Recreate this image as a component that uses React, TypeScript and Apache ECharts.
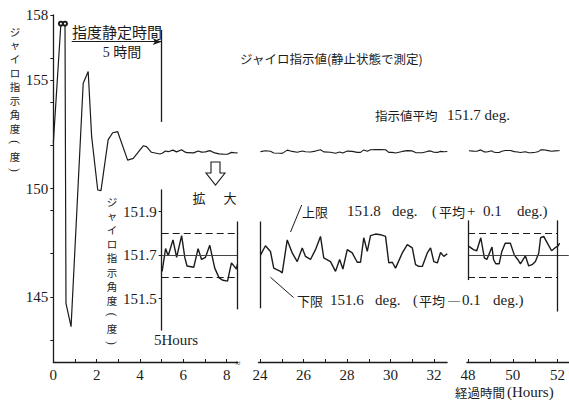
import React, { useEffect, useRef } from "react";
import * as echarts from "echarts";

// ---------- data (hours, gyro reading in degrees) ----------
const transientHours = [0, 0.35, 0.54, 0.585, 0.82, 1.38, 1.61, 1.77, 2.05, 2.2, 2.53, 2.74, 2.97, 3.43, 3.69, 4.15, 4.3, 4.53, 4.92];
const transientValues = [152.08, 157.6, 157.6, 144.7, 143.63, 154.85, 155.39, 152.39, 149.93, 149.9, 152.24, 152.57, 152.62, 151.31, 151.39, 151.97, 151.93, 151.67, 151.59];

const seg1Hours = [5.02, 5.18, 5.3, 5.52, 5.69, 5.92, 6.07, 6.17, 6.48, 6.68, 6.84, 7.02, 7.22, 7.45, 7.65, 7.83, 8.04, 8.22, 8.45, 8.5];
const seg1Values = [151.625, 151.73, 151.697, 151.77, 151.69, 151.79, 151.687, 151.65, 151.644, 151.73, 151.68, 151.69, 151.745, 151.64, 151.595, 151.584, 151.58, 151.664, 151.636, 151.66];

const seg2Hours = [24.02, 24.25, 24.48, 24.63, 24.94, 25.02, 25.25, 25.48, 25.71, 25.94, 26.09, 26.32, 26.55, 26.78, 26.93, 27.24, 27.47, 27.66, 27.81, 28.01, 28.24, 28.47, 28.62, 28.77, 28.93, 29.08, 29.31, 29.54, 29.77, 29.92, 30.08, 30.23, 30.54, 30.77, 31.0, 31.15, 31.3, 31.46, 31.69, 31.84, 31.99, 32.15, 32.3, 32.45, 32.61];
const seg2Values = [151.7, 151.743, 151.717, 151.64, 151.625, 151.618, 151.77, 151.71, 151.67, 151.733, 151.694, 151.68, 151.725, 151.786, 151.687, 151.67, 151.625, 151.68, 151.636, 151.725, 151.71, 151.667, 151.667, 151.78, 151.717, 151.79, 151.797, 151.794, 151.786, 151.664, 151.667, 151.64, 151.71, 151.748, 151.733, 151.656, 151.648, 151.648, 151.71, 151.733, 151.67, 151.664, 151.712, 151.694, 151.706];

const seg3Hours = [48.04, 48.24, 48.39, 48.57, 48.73, 48.84, 49.07, 49.14, 49.24, 49.39, 49.51, 49.66, 49.89, 50.07, 50.22, 50.34, 50.56, 50.71, 50.86, 51.01, 51.16, 51.24, 51.38, 51.58, 51.73, 51.88, 52.03, 52.09];
const seg3Values = [151.74, 151.725, 151.72, 151.78, 151.687, 151.68, 151.737, 151.68, 151.66, 151.66, 151.717, 151.755, 151.755, 151.7, 151.68, 151.66, 151.697, 151.65, 151.656, 151.671, 151.71, 151.78, 151.786, 151.748, 151.72, 151.733, 151.743, 151.755];

const meanValue = 151.7;
const upperLimit = 151.8;
const lowerLimit = 151.6;

// tick labels
const mainYLabels = [145, 150, 155, 158];
const mainYTicks = [143, 145, 147, 149, 150, 152, 154, 155, 156, 158];
const insetYLabels = [151.5, 151.7, 151.9];
const seg1XTicks = [1, 2, 3, 4, 5, 6, 7, 8];
const seg1XLabels = [0, 2, 4, 6, 8];
const seg2XTicks = [24, 25, 26, 27, 28, 29, 30, 31, 32];
const seg2XLabels = [24, 26, 28, 30, 32];
const seg3XTicks = [48, 49, 50, 51, 52];
const seg3XLabels = [48, 50, 52];

const yTitleChars = ["ジ", "ャ", "イ", "ロ", "指", "示", "角", "度", "(", "度", ")"];

const INK = "#1b1b1b";
const SERIF = '"Liberation Serif", "DejaVu Serif", serif';
const CJK = '"Noto Sans CJK JP", sans-serif';
const MIXED = '"Liberation Serif", "Noto Sans CJK JP", serif';

const zip = (xs: number[], ys: number[]) => xs.map((x, i) => [x, ys[i]]);

const seg = (x1: number, y1: number, x2: number, y2: number, style: any) => [
  { coord: [x1, y1], lineStyle: style, symbol: "none" },
  { coord: [x2, y2], symbol: "none" },
];

const solid = { color: INK, width: 1.3, type: "solid" };
const dashed = { color: INK, width: 1.2, type: [7, 4] };
const meanStyle = { color: "#444", width: 1, type: "solid" };

function txt(text: string, x: number, y: number, size: number, family: string, align = "left", vAlign = "middle", extra: any = {}, rotation = 0) {
  return {
    type: "text",
    x,
    y,
    rotation,
    silent: true,
    style: {
      text,
      fontSize: size,
      fontFamily: family,
      fill: INK,
      align,
      verticalAlign: vAlign,
      textAlign: align,
      textVerticalAlign: vAlign,
      ...extra,
    },
  };
}

function verticalTitle(cx: number, firstCy: number, step: number, size: number) {
  return yTitleChars.map((ch, i) => {
    const cy = firstCy + i * step;
    if (ch === "(" || ch === ")") {
      // parentheses turned for vertical writing
      return txt(ch, cx, cy, size + 1, SERIF, "center", "middle", {}, -Math.PI / 2);
    }
    return txt(ch, cx, cy, size, CJK, "center", "middle");
  });
}

export default function App() {
  const ref = useRef<HTMLDivElement>(null);
  useEffect(() => {
    const chart = echarts.init(ref.current!, null, { renderer: "svg" });

    const upper1Data: any[] = zip(transientHours, transientValues).map((p) =>
      p[1] >= 157.5 ? { value: p, symbol: "emptyCircle", symbolSize: 4 } : { value: p, symbol: "none" }
    );
    zip(seg1Hours, seg1Values).forEach((p) => upper1Data.push({ value: p, symbol: "none" }));

    const hideAxis = { show: false };
    const grids = [
      { left: 53.3, top: 15, width: 184.2, height: 347 },
      { left: 258.5, top: 15, width: 188.6, height: 347 },
      { left: 466.9, top: 15, width: 101.9, height: 347 },
      { left: 161.7, top: 190, width: 75.8, height: 140 },
      { left: 258.5, top: 190, width: 188.6, height: 140 },
      { left: 466.9, top: 190, width: 101.9, height: 140 },
    ];

    const xLabel = (vals: number[]) => ({
      customValues: vals,
      fontFamily: SERIF,
      fontSize: 15,
      color: INK,
      margin: 5,
    });
    const xBase = (grid: number, min: number, max: number, ticks: number[], labels: number[]) => ({
      type: "value",
      gridIndex: grid,
      min,
      max,
      axisLine: { show: true, onZero: false, lineStyle: { color: INK, width: 1.3 } },
      axisTick: { show: true, inside: true, length: 3, customValues: ticks, lineStyle: { color: INK, width: 1 } },
      axisLabel: xLabel(labels),
      splitLine: { show: false },
    });

    const option: any = {
      animation: false,
      grid: grids,
      xAxis: [
        xBase(0, 0, 8.5, seg1XTicks, seg1XLabels),
        xBase(1, 23.93, 32.6, seg2XTicks, seg2XLabels),
        xBase(2, 47.95, 52.5, seg3XTicks, seg3XLabels),
        { type: "value", gridIndex: 3, min: 5, max: 8.5, ...hideAxis },
        { type: "value", gridIndex: 4, min: 23.93, max: 32.6, ...hideAxis },
        { type: "value", gridIndex: 5, min: 47.95, max: 52.5, ...hideAxis },
      ],
      yAxis: [
        {
          type: "value",
          gridIndex: 0,
          min: 142,
          max: 158,
          axisLine: { show: true, onZero: false, lineStyle: { color: INK, width: 1.3 } },
          axisTick: { show: true, inside: false, length: 3, customValues: mainYTicks, lineStyle: { color: INK, width: 1 } },
          axisLabel: { customValues: mainYLabels, fontFamily: SERIF, fontSize: 15, color: INK, margin: 5 },
          splitLine: { show: false },
        },
        { type: "value", gridIndex: 1, min: 142, max: 158, ...hideAxis },
        { type: "value", gridIndex: 2, min: 142, max: 158, ...hideAxis },
        {
          type: "value",
          gridIndex: 3,
          min: 151.355,
          max: 152.0,
          axisLine: { show: true, onZero: false, lineStyle: { color: INK, width: 1.3 } },
          axisTick: { show: true, inside: false, length: 3, customValues: insetYLabels, lineStyle: { color: INK, width: 1 } },
          axisLabel: {
            customValues: insetYLabels,
            formatter: (v: number) => v.toFixed(1),
            fontFamily: SERIF,
            fontSize: 15,
            color: INK,
            margin: 5,
          },
          splitLine: { show: false },
        },
        { type: "value", gridIndex: 4, min: 151.355, max: 152.0, ...hideAxis },
        { type: "value", gridIndex: 5, min: 151.355, max: 152.0, ...hideAxis },
      ],
      series: [
        {
          type: "line",
          xAxisIndex: 0,
          yAxisIndex: 0,
          data: upper1Data,
          showSymbol: true,
          symbol: "none",
          itemStyle: { color: INK, borderColor: INK, borderWidth: 1 },
          lineStyle: { color: INK, width: 1.2 },
          silent: true,
          markLine: {
            silent: true,
            symbol: "none",
            label: { show: false },
            emphasis: { disabled: true },
            data: [
              seg(5, 157.31, 5, 153.07, solid),
              [
                { coord: [0.85, 156.77], lineStyle: { color: INK, width: 1.2, type: "solid" }, symbol: "none" },
                { coord: [5, 156.77], symbol: "arrow", symbolSize: [5, 9] },
              ],
            ],
          },
        },
        {
          type: "line",
          xAxisIndex: 1,
          yAxisIndex: 1,
          data: zip(seg2Hours, seg2Values),
          showSymbol: false,
          lineStyle: { color: INK, width: 1.1 },
          silent: true,
        },
        {
          type: "line",
          xAxisIndex: 2,
          yAxisIndex: 2,
          data: zip(seg3Hours, seg3Values),
          showSymbol: false,
          lineStyle: { color: INK, width: 1.1 },
          silent: true,
        },
        {
          type: "line",
          xAxisIndex: 3,
          yAxisIndex: 3,
          data: zip(seg1Hours, seg1Values),
          showSymbol: false,
          lineStyle: { color: INK, width: 1.4 },
          silent: true,
          markLine: {
            silent: true,
            symbol: "none",
            label: { show: false },
            emphasis: { disabled: true },
            data: [
              seg(5, upperLimit, 8.5, upperLimit, dashed),
              seg(5, lowerLimit, 8.5, lowerLimit, dashed),
              seg(5, meanValue, 8.5, meanValue, meanStyle),
              seg(8.5, 151.855, 8.5, 151.45, solid),
            ],
          },
        },
        {
          type: "line",
          xAxisIndex: 4,
          yAxisIndex: 4,
          data: zip(seg2Hours, seg2Values),
          showSymbol: false,
          lineStyle: { color: INK, width: 1.4 },
          silent: true,
          markLine: {
            silent: true,
            symbol: "none",
            label: { show: false },
            emphasis: { disabled: true },
            data: [
              seg(24, upperLimit, 32.63, upperLimit, dashed),
              seg(24, lowerLimit, 32.63, lowerLimit, dashed),
              seg(24, meanValue, 32.63, meanValue, meanStyle),
              seg(24, 151.855, 24, 151.455, solid),
              seg(32.63, 151.86, 32.63, 151.48, solid),
            ],
          },
        },
        {
          type: "line",
          xAxisIndex: 5,
          yAxisIndex: 5,
          data: zip(seg3Hours, seg3Values),
          showSymbol: false,
          lineStyle: { color: INK, width: 1.4 },
          silent: true,
          markLine: {
            silent: true,
            symbol: "none",
            label: { show: false },
            emphasis: { disabled: true },
            data: [
              seg(48, upperLimit, 52, upperLimit, dashed),
              seg(48, lowerLimit, 52, lowerLimit, dashed),
              seg(48, meanValue, 52.5, meanValue, meanStyle),
              seg(48, 151.86, 48, 151.585, solid),
              seg(52, 151.86, 52, 151.44, solid),
            ],
          },
        },
      ],
      graphic: {
        elements: [
          ...verticalTitle(15, 31, 13.9, 10.5),
          ...verticalTitle(112, 201, 14.2, 10.5),
          txt("指度静定時間", 72, 31, 15, CJK),
          txt("5 時間", 122, 52, 14, MIXED, "center"),
          txt("ジャイロ指示値(静止状態で測定)", 240, 58, 12.5, CJK),
          txt("指示値平均", 375, 115, 12.5, CJK),
          txt("151.7 deg.", 447, 115, 15, SERIF),
          txt("拡", 199, 197, 13, CJK, "center"),
          txt("大", 230, 197, 13, CJK, "center"),
          txt("5Hours", 154, 340, 15, SERIF),
          txt("上限", 302, 211, 13, CJK),
          txt("151.8", 347, 211, 15, SERIF),
          txt("deg.", 392, 211, 15, SERIF),
          txt("(", 432, 211, 14, SERIF),
          txt("平均", 439, 211, 13, CJK),
          txt("+", 467, 211, 15, SERIF),
          txt("0.1", 483, 211, 15, SERIF),
          txt("deg.)", 517, 211, 15, SERIF),
          txt("下限", 297, 300, 13, CJK),
          txt("151.6", 330, 300, 15, SERIF),
          txt("deg.", 375, 300, 15, SERIF),
          txt("(", 413, 300, 14, SERIF),
          txt("平均", 419, 300, 13, CJK),
          txt("—", 448, 300, 12, SERIF),
          txt("0.1", 462, 300, 15, SERIF),
          txt("deg.)", 493, 300, 15, SERIF),
          txt("経過時間", 455, 392, 12.5, CJK),
          txt("(Hours)", 507, 392, 15, SERIF),
          txt("≈", 238, 363, 9, SERIF, "center", "middle", {}),
          {
            type: "line",
            silent: true,
            shape: { x1: 301.7, y1: 205, x2: 290.5, y2: 232 },
            style: { stroke: INK, lineWidth: 1 },
          },
          {
            type: "line",
            silent: true,
            shape: { x1: 293.5, y1: 297.5, x2: 270.5, y2: 277.3 },
            style: { stroke: INK, lineWidth: 1 },
          },
          {
            type: "polygon",
            silent: true,
            shape: {
              points: [
                [211, 162],
                [220, 162],
                [220, 173],
                [225, 173],
                [215.5, 185],
                [206, 173],
                [211, 173],
              ],
            },
            style: { stroke: INK, fill: "#fff", lineWidth: 1.1 },
          },
        ],
      },
    };

    chart.setOption(option);
    return () => chart.dispose();
  }, []);

  return (
    <div
      ref={ref}
      style={{ position: "absolute", left: 0, top: 0, width: 569, height: 404, background: "#fff" }}
    />
  );
}
